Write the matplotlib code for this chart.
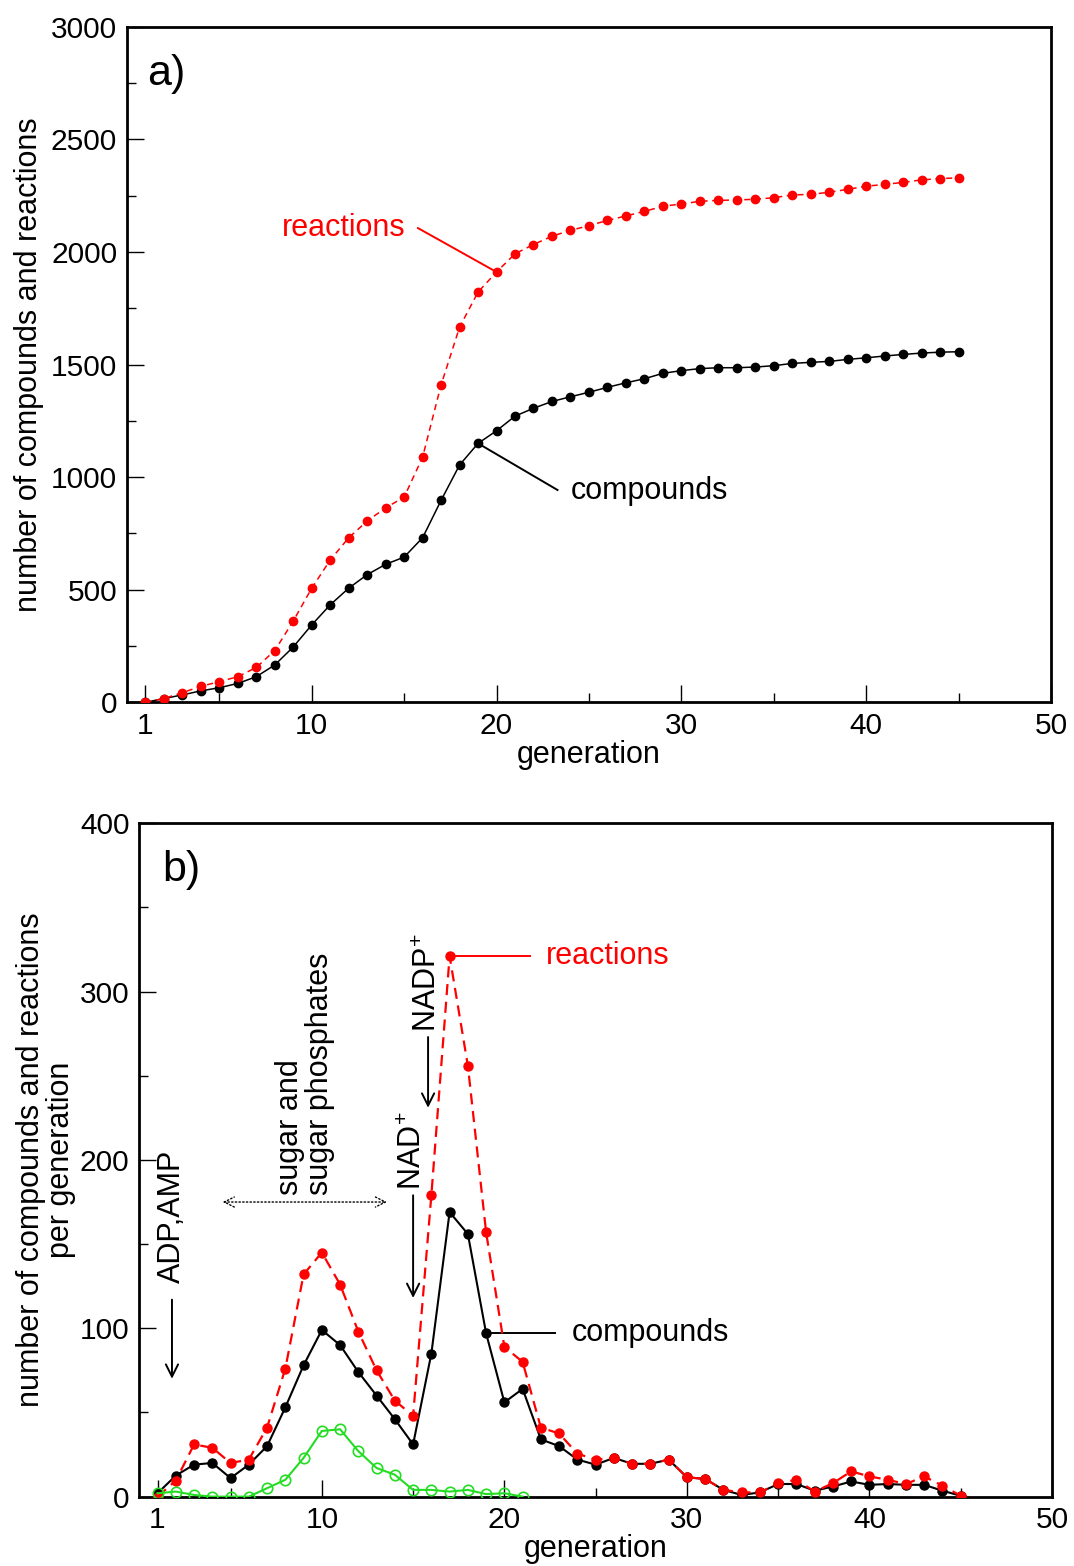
import numpy as np
import matplotlib
matplotlib.use("Agg")
import matplotlib.pyplot as plt
from matplotlib.ticker import FixedLocator, MultipleLocator

plt.rcParams['font.family'] = ['Liberation Sans', 'DejaVu Sans']
plt.rcParams['mathtext.default'] = 'regular'
plt.rcParams['font.size'] = 22

# cumulative counts per generation (panel a)
gen_a = np.arange(1, 46)
reactions_a = [0, 17, 43, 71, 92, 114, 155, 230, 361, 507, 632, 731, 805, 864, 911,
               1089, 1410, 1666, 1822, 1911, 1992, 2033, 2070, 2096, 2117, 2140, 2160,
               2180, 2203, 2213, 2225, 2229, 2231, 2234, 2241, 2253, 2256, 2265, 2278,
               2292, 2300, 2309, 2320, 2326, 2329]
compounds_a = [0, 17, 33, 51, 65, 84, 114, 166, 246, 344, 433, 507, 567, 613, 645,
               731, 897, 1054, 1150, 1206, 1271, 1306, 1336, 1357, 1377, 1399, 1419,
               1437, 1461, 1473, 1482, 1486, 1486, 1489, 1495, 1505, 1510, 1514, 1523,
               1530, 1538, 1545, 1551, 1555, 1557]

# new items per generation (panel b)
gen_b = np.arange(1, 46)
reactions_b = [0, 9.5, 31, 29, 20, 22, 41, 76, 132, 145, 126, 98, 75, 57, 48, 179, 321,
               256, 157, 89, 80, 41, 37.5, 25.5, 22, 23, 19.5, 19.5, 22, 11.5, 10.5, 4,
               2.5, 2.5, 8, 10, 3, 8, 15, 12, 10, 7.5, 12, 6.5, 0.5]
compounds_b = [2, 12.5, 19, 20, 11, 19, 30, 53, 78, 99, 90, 74, 60, 46, 31, 85, 169,
               156, 97, 56, 64, 34, 30, 22, 19, 23, 19.5, 19.5, 22, 11.5, 10.5, 4, 1,
               2.5, 7.5, 7.5, 3.5, 6, 9, 7, 7.5, 7, 7, 3.5, 0.5]
gen_green = np.arange(1, 22)
green_b = [2, 3, 1, 0, 0, 0, 5, 10, 23, 39, 40, 27, 17, 13, 4, 4, 3, 4, 1.5, 2, 0]

xticks_major = [1, 10, 20, 30, 40, 50]
xticks_minor = [5, 15, 25, 35, 45]


def style_axes(ax, ymax, ystep):
    ax.set_xlim(0, 50)
    ax.set_ylim(0, ymax)
    ax.xaxis.set_major_locator(FixedLocator(xticks_major))
    ax.xaxis.set_minor_locator(FixedLocator(xticks_minor))
    ax.yaxis.set_major_locator(MultipleLocator(ystep))
    ax.yaxis.set_minor_locator(MultipleLocator(ystep / 2))
    ax.tick_params(which='both', direction='in', top=False, right=False, width=1.0)
    ax.tick_params(which='major', length=12, labelsize=21.5, pad=7)
    ax.tick_params(which='minor', length=6.5)
    for s in ax.spines.values():
        s.set_linewidth(2.0)


fig = plt.figure(figsize=(10.74, 15.66), dpi=100)
ax1 = fig.add_axes([0.1182, 0.5515, 0.8603, 0.4314])
ax2 = fig.add_axes([0.1297, 0.0443, 0.8498, 0.4300])

# ---- panel a
ax1.plot(gen_a, compounds_a, '-', color='black', lw=1.1, marker='o', ms=6, zorder=3)
ax1.plot(gen_a, reactions_a, color='red', lw=1.1, ls=(0, (4, 3)), marker='o', ms=6,
         zorder=4)
style_axes(ax1, 3000, 500)
ax1.set_xlabel('generation', labelpad=0)
ax1.set_ylabel('number of compounds and reactions', labelpad=5)
ax1.text(0.022, 0.930, 'a)', transform=ax1.transAxes, fontsize=31, va='center')

ax1.plot([15.75, 20], [2106, 1911], color='red', lw=1.4, zorder=2)
ax1.text(15.1, 2106, 'reactions', color='red', ha='right', va='center')
ax1.plot([19, 23.3], [1150, 943], color='black', lw=1.4, zorder=2)
ax1.text(24.0, 940, 'compounds', color='black', ha='left', va='center')

# ---- panel b
ax2.plot(gen_b, compounds_b, '-', color='black', lw=1.5, marker='o', ms=6.5, zorder=3)
ax2.plot(gen_b, reactions_b, color='red', lw=1.6, ls=(0, (5, 3)), marker='o', ms=6.5,
         zorder=4)
ax2.plot(gen_green, green_b, '-', color='#22dd22', lw=1.5, marker='o', ms=7.5,
         mfc='none', mec='#22dd22', mew=1.2, zorder=5)
style_axes(ax2, 400, 100)
ax2.set_xlabel('generation', labelpad=0)
ax2.set_ylabel('number of compounds and reactions\nper generation', labelpad=3,
               linespacing=1.0)
ax2.text(0.025, 0.931, 'b)', transform=ax2.transAxes, fontsize=31, va='center')

ax2.plot([17, 21.4], [321, 321], color='red', lw=1.4, zorder=2)
ax2.text(22.3, 321, 'reactions', color='red', ha='left', va='center')
ax2.plot([19, 22.8], [97, 97], color='black', lw=1.4, zorder=2)
ax2.text(23.7, 97, 'compounds', color='black', ha='left', va='center')

arrow = dict(arrowstyle='->', color='black', lw=1.4, shrinkA=0, shrinkB=0,
             mutation_scale=22)
ax2.text(1.79, 127, 'ADP,AMP', rotation=90, ha='center', va='bottom')
ax2.annotate('', xy=(1.79, 70), xytext=(1.79, 117), arrowprops=arrow)

ax2.text(9.1, 179, 'sugar and\nsugar phosphates', rotation=90, ha='center',
         va='bottom', multialignment='left', linespacing=1.0)
ax2.annotate('', xy=(13.57, 175), xytext=(4.57, 175),
             arrowprops=dict(arrowstyle='<->', color='black', lw=1.0, ls=':',
                             shrinkA=0, shrinkB=0, mutation_scale=18))

ax2.text(15.0, 182, 'NAD$^{\\!+}$', rotation=90, ha='center', va='bottom')
ax2.annotate('', xy=(15.0, 118), xytext=(15.0, 179), arrowprops=arrow)
ax2.text(15.82, 276, 'NADP$^{\\!+}$', rotation=90, ha='center', va='bottom')
ax2.annotate('', xy=(15.82, 231), xytext=(15.82, 273), arrowprops=arrow)

fig.savefig('out.png', dpi=100)
